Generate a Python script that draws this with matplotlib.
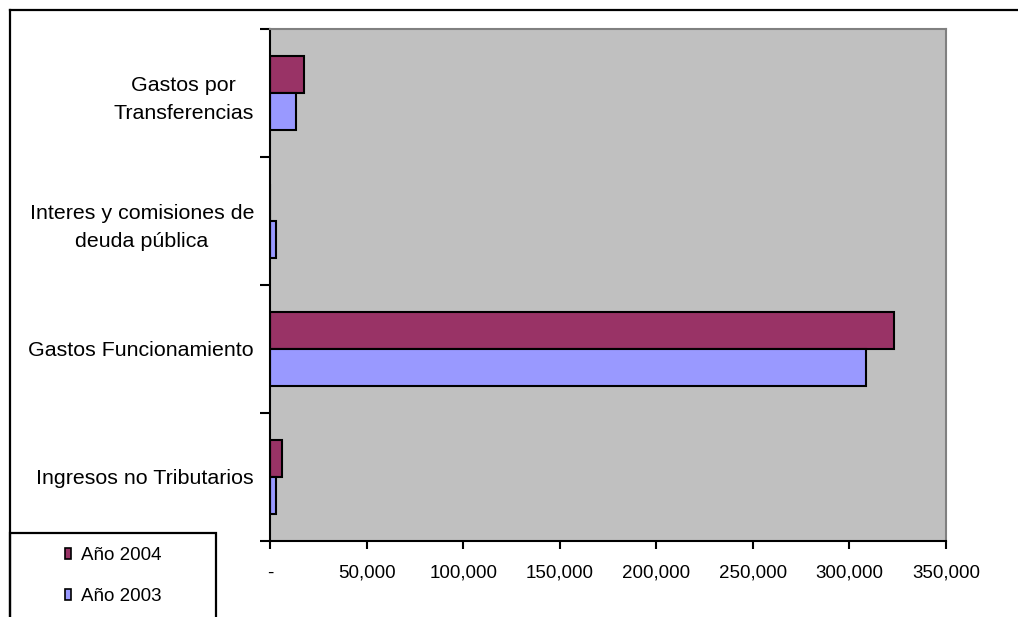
import matplotlib
matplotlib.use("Agg")
import matplotlib.pyplot as plt
from matplotlib.patches import Patch, Rectangle
from matplotlib.ticker import FixedLocator, FuncFormatter
import numpy as np

# - DATA - #
categorias = ["Ingresos no Tributarios", "Gastos Funcionamiento",
              "Interes y comisiones de\ndeuda pública", "Gastos por\nTransferencias"]
anio_2004 = [6200, 323000, 0, 17600]
anio_2003 = [3100, 308600, 3100, 13500]
xticks = [0, 50000, 100000, 150000, 200000, 250000, 300000, 350000]

plt.rcParams['font.family'] = ['Liberation Sans', 'DejaVu Sans']

W, H = 1018, 617
fig = plt.figure(figsize=(W / 100, H / 100), dpi=100)
ax = fig.add_axes([270 / W, 1 - 541 / H, 676 / W, 512 / H])
ax.set_facecolor("#C0C0C0")

y = np.arange(len(categorias))
h = 0.29
ax.barh(y + h / 2, anio_2004, height=h, color="#993366", edgecolor="black", linewidth=1.5, label="Año 2004")
ax.barh(y - h / 2, anio_2003, height=h, color="#9999FF", edgecolor="black", linewidth=1.5, label="Año 2003")

ax.set_ylim(-0.5, len(categorias) - 0.5)
ax.set_xlim(0, 350000)

# y ticks on the boundaries, labels at the centres (Excel style)
ax.yaxis.set_major_locator(FixedLocator(np.arange(-0.5, len(categorias), 1.0)))
ax.yaxis.set_major_formatter(FuncFormatter(lambda v, p: ""))
ax.set_yticks(y, minor=True)
ax.set_yticklabels(categorias, minor=True, fontsize=15.4, linespacing=1.6,
                   multialignment="center")
ax.tick_params(axis="y", which="minor", length=0, pad=11.5)
ax.tick_params(axis="y", which="major", length=7, width=1.5, direction="out")

ax.set_xticks(xticks)
ax.set_xticklabels(["-" if v == 0 else f"{v:,}" for v in xticks], fontsize=13.5)
ax.tick_params(axis="x", length=6, width=1.5, direction="out", pad=11)

for s in ["left", "bottom"]:
    ax.spines[s].set_color("black")
    ax.spines[s].set_linewidth(1.5)
for s in ["top", "right"]:
    ax.spines[s].set_color("#808080")
    ax.spines[s].set_linewidth(1.5)

# chart border (cut off on right and bottom)
fig.add_artist(plt.Line2D([10 / W, 1.0], [1 - 10 / H, 1 - 10 / H], color="black", lw=1.6))
fig.add_artist(plt.Line2D([10 / W, 10 / W], [0, 1 - 10 / H], color="black", lw=1.6))

# legend box
fig.add_artist(Rectangle((10 / W, -0.05), 206 / W, 0.05 + (617 - 533) / H, transform=fig.transFigure,
                         fill=False, edgecolor="black", lw=1.6))
handles = [Patch(facecolor="#993366", edgecolor="black", lw=1.2, label="Año 2004"),
           Patch(facecolor="#9999FF", edgecolor="black", lw=1.2, label="Año 2003")]
fig.legend(handles=handles, loc="center", bbox_to_anchor=(113 / W, 1 - 576 / H), frameon=False,
           fontsize=13.5, handlelength=0.36, handleheight=0.52, handletextpad=0.5, labelspacing=1.3)

fig.savefig("out.png", dpi=100)
